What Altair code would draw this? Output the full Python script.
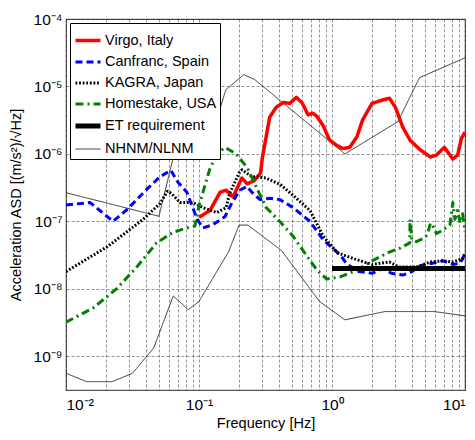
import altair as alt
import pandas as pd

FONT = "Liberation Sans"

series_names = ["Virgo, Italy", "Canfranc, Spain", "KAGRA, Japan",
                "Homestake, USA", "ET requirement", "NHNM/NLNM"]
colors = ["#ff0000", "#0000ff", "#000000", "#008000", "#000000", "#333333"]
dashes = [[1, 0], [7, 4], [1.8, 1.8], [8, 4, 2, 4], [1, 0], [1, 0]]
widths = [3.5, 3, 3, 3, 5, 1]

virgo_f = [0.1, 0.121, 0.144, 0.16, 0.18, 0.21, 0.23, 0.26, 0.29, 0.30, 0.32,
           0.34, 0.38, 0.43, 0.48, 0.54, 0.60, 0.66, 0.72, 0.77, 0.86, 0.96,
           1.08, 1.2, 1.36, 1.54, 1.7, 2.0, 2.4, 2.7, 3.0, 3.4, 3.86, 4.6,
           5.5, 6.1, 7.0, 8.1, 8.8, 9.4, 10]
virgo_v = [1.15e-7, 1.45e-7, 2.7e-7, 2.9e-7, 2.3e-7, 4.4e-7, 3.6e-7, 4.0e-7,
           5.2e-7, 9e-7, 1.8e-6, 3.5e-6, 4.9e-6, 5.8e-6, 5.6e-6, 6.9e-6,
           5.6e-6, 3.8e-6, 4.0e-6, 3.6e-6, 2.6e-6, 1.6e-6, 1.35e-6, 1.2e-6,
           1.25e-6, 1.8e-6, 3.2e-6, 5.6e-6, 6.3e-6, 6.7e-6, 4.9e-6, 2.5e-6,
           1.6e-6, 1.15e-6, 0.9e-6, 0.96e-6, 1.25e-6, 0.84e-6, 0.96e-6,
           1.7e-6, 2.1e-6]

canfranc_f = [0.01, 0.0152, 0.0226, 0.0288, 0.0406, 0.051, 0.0615, 0.0695,
              0.081, 0.097, 0.107, 0.127, 0.157, 0.177, 0.203, 0.229, 0.25,
              0.288, 0.342, 0.406, 0.51, 0.683, 0.86, 1.15, 1.3, 1.6, 2.0,
              2.4, 2.8, 3.4, 4.0, 4.6, 5.7, 6.8, 8.1, 9.2, 10]
canfranc_v = [1.75e-7, 1.9e-7, 1.0e-7, 1.5e-7, 3.0e-7, 4.6e-7, 5.7e-7, 3.8e-7,
              2.7e-7, 1.07e-7, 0.8e-7, 0.89e-7, 1.18e-7, 1.9e-7, 2.9e-7,
              3.3e-7, 2.7e-7, 2.1e-7, 2.2e-7, 2.1e-7, 1.6e-7, 1.0e-7, 0.53e-7,
              3.2e-8, 2.3e-8, 1.8e-8, 1.7e-8, 2.0e-8, 1.7e-8, 1.6e-8, 1.8e-8,
              2.2e-8, 2.4e-8, 2.6e-8, 2.3e-8, 2.4e-8, 3.3e-8]

kagra_f = [0.01, 0.0204, 0.038, 0.051, 0.058, 0.062, 0.072, 0.09, 0.107,
           0.136, 0.16, 0.17, 0.2, 0.21, 0.25, 0.32, 0.41, 0.54, 0.683, 0.86,
           1.1, 1.54, 2.0, 2.7, 3.2, 4.3, 5.5, 6.8, 8.1, 9.6, 10]
kagra_v = [1.8e-8, 4.2e-8, 1.07e-7, 1.85e-7, 2.8e-7, 2.6e-7, 1.9e-7, 1.9e-7,
           1.6e-7, 1.35e-7, 1.6e-7, 2.6e-7, 5.2e-7, 5.8e-7, 4.6e-7, 4.4e-7,
           3.5e-7, 2.2e-7, 1.45e-7, 0.6e-7, 3.4e-8, 2.7e-8, 2.3e-8, 2.5e-8,
           2.1e-8, 2.1e-8, 2.5e-8, 2.6e-8, 2.5e-8, 2.8e-8, 3.4e-8]

homestake_f = [0.01, 0.016, 0.024, 0.034, 0.048, 0.064, 0.085, 0.093, 0.1,
               0.12, 0.136, 0.157, 0.19, 0.23, 0.27, 0.32, 0.41, 0.51, 0.66,
               0.77, 0.91, 1.15, 1.54, 2.0, 2.7, 3.24, 3.85, 3.86, 3.98, 4.3,
               4.9, 5.2, 5.5, 5.8, 6.1, 6.8, 7.7, 8.1, 8.4, 8.8, 9.2, 9.6, 10]
homestake_v = [3.2e-9, 5.2e-9, 1e-8, 2.1e-8, 4.8e-8, 6.9e-8, 8.2e-8, 8.5e-8,
               1.7e-7, 5.8e-7, 1.0e-6, 1.25e-6, 1.0e-6, 6.3e-7, 3.2e-7,
               1.6e-7, 0.97e-7, 0.6e-7, 2.9e-8, 1.9e-8, 1.4e-8, 1.5e-8,
               1.9e-8, 2.6e-8, 3.5e-8, 4.0e-8, 4.8e-8, 1.07e-7, 5.3e-8, 5.0e-8,
               5.6e-8, 6.3e-8, 0.94e-7, 0.82e-7, 0.66e-7, 0.74e-7, 0.88e-7,
               1.9e-7, 1.07e-7, 1.45e-7, 0.94e-7, 1.3e-7, 0.7e-7]

et_f = [1.0, 10.0]
et_v = [2e-8, 2e-8]

nhnm_f = [0.01, 0.05, 0.065, 0.127, 0.159, 0.217, 0.263, 1.25, 3.125, 4.55, 10]
nhnm_v = [2.66e-7, 1.19e-7, 1.0e-6, 2.1e-6, 8.9e-6, 1.5e-5, 1.26e-5, 1.0e-6,
          3.0e-6, 1.35e-5, 2.66e-5]

nlnm_f = [0.01, 0.0143, 0.0222, 0.0316, 0.0457, 0.064, 0.083, 0.1, 0.167,
          0.2, 0.233, 0.417, 0.806, 1.25, 2.5, 5.88, 10]
nlnm_v = [5.6e-10, 4.2e-10, 4.2e-10, 5.6e-10, 1.33e-9, 7.85e-9, 4.9e-9, 6.5e-9,
          3.55e-8, 8.8e-8, 8.8e-8, 3.7e-8, 6.5e-9, 3.47e-9, 4.6e-9, 4.6e-9,
          3.98e-9]

curves = [
    ("NHNM/NLNM", "NHNM", nhnm_f, nhnm_v),
    ("NHNM/NLNM", "NLNM", nlnm_f, nlnm_v),
    ("Virgo, Italy", "Virgo", virgo_f, virgo_v),
    ("Canfranc, Spain", "Canfranc", canfranc_f, canfranc_v),
    ("KAGRA, Japan", "KAGRA", kagra_f, kagra_v),
    ("Homestake, USA", "Homestake", homestake_f, homestake_v),
    ("ET requirement", "ET", et_f, et_v),
]
rows = []
for series, curve, fs, vs in curves:
    for f, v in zip(fs, vs):
        rows.append({"series": series, "curve": curve, "f": f, "v": v})
df = pd.DataFrame(rows)

x_ticks = [k * 10.0 ** e for e in (-2, -1, 0) for k in range(1, 10)] + [10.0]
y_ticks = [1e-9, 1e-8, 1e-7, 1e-6, 1e-5, 1e-4]

x_label = ("abs(log(datum.value)/LN10 - round(log(datum.value)/LN10)) < 0.001 ? "
           "['10⁻²','10⁻¹','10⁰','10¹'][round(log(datum.value)/LN10)+2] : ''")
y_label = "['10⁻⁹','10⁻⁸','10⁻⁷','10⁻⁶','10⁻⁵','10⁻⁴'][round(log(datum.value)/LN10)+9]"

axis_common = dict(grid=True, gridDash=[3, 2], gridColor="#000", gridOpacity=0.6,
                   gridWidth=0.7, ticks=False, domain=False, labelFont=FONT,
                   labelFontSize=15.5, labelColor="#000", titleFont=FONT,
                   titleFontSize=14.5, titleFontWeight="normal", titleColor="#000",
                   labelOverlap=False)

legend = alt.Legend(title=None, orient="top-left", offset=4, symbolType="stroke",
                    symbolSize=625, labelFont=FONT, labelFontSize=14.5,
                    labelColor="#000", labelLimit=0, fillColor="white",
                    strokeColor="#000", padding=3, rowPadding=0, labelOffset=2,
                    cornerRadius=0)

chart = alt.Chart(df).mark_line(clip=True, strokeJoin="round").encode(
    x=alt.X("f:Q", title="Frequency [Hz]",
            scale=alt.Scale(type="log", domain=[0.01, 10], nice=False),
            axis=alt.Axis(values=x_ticks, labelExpr=x_label, labelPadding=7,
                          titlePadding=4, **axis_common)),
    y=alt.Y("v:Q", title="Acceleration ASD [(m/s²)/√Hz]",
            scale=alt.Scale(type="log", domain=[10 ** -9.5, 1e-4], nice=False),
            axis=alt.Axis(values=y_ticks, labelExpr=y_label, labelPadding=4,
                          titlePadding=10, **axis_common)),
    color=alt.Color("series:N", scale=alt.Scale(domain=series_names, range=colors),
                    legend=legend),
    strokeDash=alt.StrokeDash("series:N",
                              scale=alt.Scale(domain=series_names, range=dashes),
                              legend=legend),
    strokeWidth=alt.StrokeWidth("series:N",
                                scale=alt.Scale(type="ordinal", domain=series_names,
                                                range=widths),
                                legend=legend),
    detail="curve:N",
).properties(
    width=399, height=371,
    autosize=alt.AutoSizeParams(type="none"),
    padding={"left": 66, "top": 19, "right": 10, "bottom": 50},
    background="white",
).configure_view(stroke="#555", strokeWidth=1.2)

chart.save("out.html", embed_options={"renderer": "svg", "actions": False})
